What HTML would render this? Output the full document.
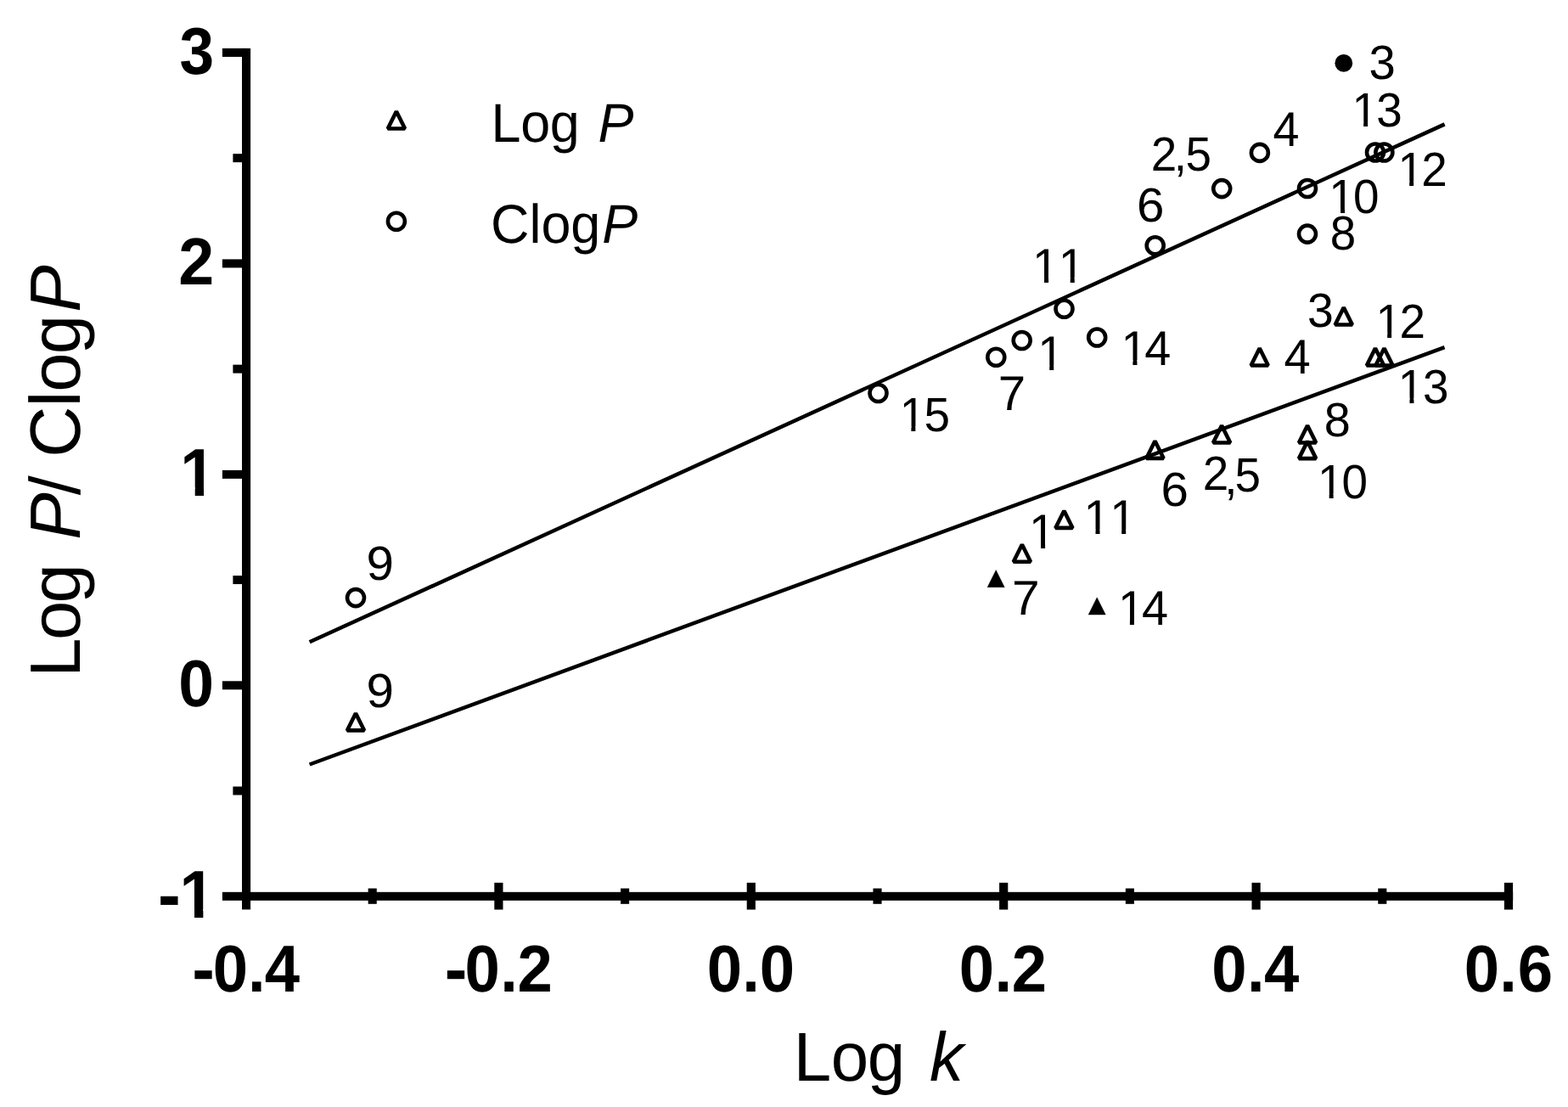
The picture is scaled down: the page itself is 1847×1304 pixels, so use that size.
<!DOCTYPE html>
<html lang="en"><head><meta charset="utf-8"><title>Log P / ClogP versus Log k</title>
<style>
html,body{margin:0;padding:0;background:#fff;}
body{width:1847px;height:1304px;overflow:hidden;}
svg{display:block;}
text{font-family:"Liberation Sans",Arial,Helvetica,sans-serif;fill:#000;font-kerning:none;text-rendering:geometricPrecision;white-space:pre;}
.b{font-weight:bold;}
.i{font-style:italic;}
</style></head><body>
<svg width="1847" height="1304" viewBox="0 0 1847 1304" role="img" aria-label="Scatter plot of Log P and ClogP versus Log k with regression lines">
<defs><clipPath id="c1"><rect x="-79.5" y="-95.4" width="159" height="85.89"/><rect x="18.51" y="-10.61" width="11.01" height="12.61"/></clipPath><clipPath id="c2"><rect x="-79.5" y="-95.4" width="186.36" height="85.89"/><rect x="2.51" y="-10.61" width="21.39" height="38.44"/><rect x="45.86" y="-10.61" width="11.01" height="12.61"/></clipPath><clipPath id="c3"><rect x="-57.6" y="-69.12" width="115.2" height="63.42"/><rect x="14.43" y="-6.8" width="5.19" height="8.8"/></clipPath><clipPath id="c4"><rect x="-57.6" y="-69.12" width="115.2" height="63.42"/><rect x="14.43" y="-6.8" width="5.19" height="8.8"/></clipPath><clipPath id="c5"><rect x="-56.6" y="-67.92" width="142.94" height="62.29"/><rect x="14.18" y="-6.73" width="5.1" height="8.73"/><rect x="31.3" y="-6.73" width="28.04" height="26.54"/></clipPath><clipPath id="c6"><rect x="-56.6" y="-67.92" width="142.01" height="62.29"/><rect x="14.18" y="-6.73" width="5.1" height="8.73"/><rect x="31.05" y="-6.73" width="26.99" height="26.54"/></clipPath><clipPath id="c7"><rect x="-56.6" y="-67.92" width="142.83" height="62.29"/><rect x="14.18" y="-6.73" width="5.1" height="8.73"/><rect x="31.24" y="-6.73" width="28.26" height="26.54"/></clipPath><clipPath id="c8"><rect x="-56.6" y="-67.92" width="142.26" height="62.29"/><rect x="14.18" y="-6.73" width="5.1" height="8.73"/><rect x="31.31" y="-6.73" width="26.99" height="26.54"/></clipPath><clipPath id="c9"><rect x="-56.6" y="-67.92" width="143.25" height="62.29"/><rect x="14.18" y="-6.73" width="5.1" height="8.73"/><rect x="31.61" y="-6.73" width="28.04" height="26.54"/></clipPath><clipPath id="c10"><rect x="-56.6" y="-67.92" width="142.73" height="62.29"/><rect x="14.18" y="-6.73" width="5.1" height="8.73"/><rect x="31.14" y="-6.73" width="28.26" height="26.54"/></clipPath><clipPath id="c11"><rect x="-56.6" y="-67.92" width="142.99" height="62.29"/><rect x="14.18" y="-6.73" width="5.1" height="8.73"/><rect x="31.45" y="-6.73" width="28.04" height="26.54"/></clipPath><clipPath id="c12"><rect x="-57.6" y="-69.12" width="143.99" height="63.42"/><rect x="14.43" y="-6.8" width="5.19" height="8.8"/><rect x="30.22" y="-6.8" width="29.52" height="26.96"/></clipPath><clipPath id="c13"><rect x="-57.6" y="-69.12" width="144.1" height="63.42"/><rect x="14.43" y="-6.8" width="5.19" height="8.8"/><rect x="30.22" y="-6.8" width="29.62" height="26.96"/></clipPath><clipPath id="c14"><rect x="-57.6" y="-69.12" width="146.8" height="63.42"/><rect x="14.43" y="-6.8" width="5.19" height="8.8"/><rect x="46.03" y="-6.8" width="5.19" height="8.8"/></clipPath><clipPath id="c15"><rect x="-57.6" y="-69.12" width="146.8" height="63.42"/><rect x="14.43" y="-6.8" width="5.19" height="8.8"/><rect x="46.03" y="-6.8" width="5.19" height="8.8"/></clipPath></defs>
<rect width="1847" height="1304" fill="#fff"/>
<g fill="#000">
<rect x="285" y="56.95" width="10.1" height="1014.45"/>
<rect x="261.9" y="1050.8" width="1520.2" height="10"/>
<rect x="261.9" y="56.95" width="28.15" height="10"/>
<rect x="261.9" y="305.4" width="28.15" height="10"/>
<rect x="261.9" y="553.85" width="28.15" height="10"/>
<rect x="261.9" y="802.3" width="28.15" height="10"/>
<rect x="274.4" y="181.17" width="15.65" height="10"/>
<rect x="274.4" y="429.62" width="15.65" height="10"/>
<rect x="274.4" y="678.07" width="15.65" height="10"/>
<rect x="274.4" y="926.52" width="15.65" height="10"/>
<rect x="582.3" y="1039.8" width="10.2" height="31.7"/>
<rect x="879.7" y="1039.8" width="10.2" height="31.7"/>
<rect x="1177.1" y="1039.8" width="10.2" height="31.7"/>
<rect x="1474.5" y="1039.8" width="10.2" height="31.7"/>
<rect x="1771.9" y="1039.8" width="10.2" height="31.7"/>
<rect x="433.65" y="1046.5" width="10.1" height="18.3"/>
<rect x="731.05" y="1046.5" width="10.1" height="18.3"/>
<rect x="1028.45" y="1046.5" width="10.1" height="18.3"/>
<rect x="1325.85" y="1046.5" width="10.1" height="18.3"/>
<rect x="1623.25" y="1046.5" width="10.1" height="18.3"/>
</g>
<text xml:space="preserve" font-size="78.2" transform="matrix(0.9339 0 0 1 211.62 86.75)" x="0"><tspan class="b">3</tspan></text>
<text xml:space="preserve" font-size="78.4" transform="matrix(0.9617 0 0 1 210.29 335.2)" x="0"><tspan class="b">2</tspan></text>
<text xml:space="preserve" font-size="79.5" transform="matrix(0.94 0 0 1 212.3 583.65)" x="0" clip-path="url(#c1)"><tspan class="b">1</tspan></text>
<text xml:space="preserve" font-size="78.2" transform="matrix(0.9599 0 0 1 210.33 832.1)" x="0"><tspan class="b">0</tspan></text>
<text xml:space="preserve" font-size="79.5" transform="matrix(0.94 0 0 1 185.89 1080.55)" x="0 27.36" y="2.2 0" clip-path="url(#c2)"><tspan class="b" font-size="85.46">-</tspan><tspan class="b">1</tspan></text>
<text xml:space="preserve" font-size="78.2" transform="matrix(0.95 0 0 1 226.14 1167.6)" x="0 25.95 69.29 89.99" y="2.2 0 0 0"><tspan class="b" font-size="84.06">-</tspan><tspan class="b">0.4</tspan></text>
<text xml:space="preserve" font-size="78.2" transform="matrix(0.95 0 0 1 523.79 1167.6)" x="0 24.85 68.92 90.26" y="2.2 0 0 0"><tspan class="b" font-size="84.06">-</tspan><tspan class="b">0.2</tspan></text>
<text xml:space="preserve" font-size="78.2" transform="matrix(0.95 0 0 1 832.65 1167.6)" x="0 43.92 65.26"><tspan class="b">0.0</tspan></text>
<text xml:space="preserve" font-size="78.2" transform="matrix(0.95 0 0 1 1129.8 1167.6)" x="0 44.02 65.21"><tspan class="b">0.2</tspan></text>
<text xml:space="preserve" font-size="78.2" transform="matrix(0.95 0 0 1 1427.3 1167.6)" x="0 43.86 65.09"><tspan class="b">0.4</tspan></text>
<text xml:space="preserve" font-size="78.2" transform="matrix(0.95 0 0 1 1724.8 1167.6)" x="0 43.76 66.24"><tspan class="b">0.6</tspan></text>
<text xml:space="preserve" font-size="81.5" transform="matrix(0.98 0 0 1 934.74 1272.7)" x="0 44.9 88.72 134.05 163.52">Log <tspan class="i">k</tspan></text>
<text xml:space="preserve" font-size="84" transform="matrix(0 -0.99 1 0 94 797.71)" x="0 44.07 88.04 134.76 163.54 216.62 239.96 261.51 321.76 339.32 384.41 434.35">Log <tspan class="i">P</tspan>/ Clog<tspan class="i">P</tspan></text>
<g stroke="#000" stroke-width="4.5" fill="none" stroke-linecap="butt">
<line x1="364.65" y1="756.3" x2="1701.65" y2="146.35"/>
<line x1="364.65" y1="900.5" x2="1701.55" y2="409.2"/>
</g>
<g stroke="#000" stroke-width="4.6" fill="none">
<circle cx="419" cy="704.1" r="10"/>
<circle cx="1034.5" cy="463" r="10"/>
<circle cx="1173.3" cy="420.8" r="10"/>
<circle cx="1203.7" cy="401" r="10"/>
<circle cx="1253.5" cy="363.7" r="10"/>
<circle cx="1292.2" cy="397.5" r="10"/>
<circle cx="1360.7" cy="289.3" r="10"/>
<circle cx="1439.2" cy="222.1" r="10"/>
<circle cx="1483.9" cy="179.9" r="10"/>
<circle cx="1540" cy="222" r="10"/>
<circle cx="1540" cy="275.6" r="10"/>
<circle cx="1620" cy="179.5" r="10"/>
<circle cx="1630.4" cy="179.5" r="10"/>
<circle cx="466.9" cy="260.7" r="10"/>
</g>
<circle cx="1582.8" cy="74.4" r="10.4" fill="#000"/>
<g stroke="#000" stroke-width="4.6" fill="none" stroke-linejoin="bevel">
<polygon points="419,840.17 429.1,860.42 408.9,860.42"/>
<polygon points="1203.9,641.48 1214,661.73 1193.8,661.73"/>
<polygon points="1253.4,601.67 1263.5,621.92 1243.3,621.92"/>
<polygon points="1360.5,519.58 1370.6,539.83 1350.4,539.83"/>
<polygon points="1439.1,501.27 1449.2,521.52 1429,521.52"/>
<polygon points="1483.7,410.18 1493.8,430.43 1473.6,430.43"/>
<polygon points="1540.1,501.27 1550.2,521.52 1530,521.52"/>
<polygon points="1540.1,519.88 1550.2,540.12 1530,540.12"/>
<polygon points="1582.8,362.18 1592.9,382.43 1572.7,382.43"/>
<polygon points="1620,410.27 1630.1,430.52 1609.9,430.52"/>
<polygon points="1630.5,410.27 1640.6,430.52 1620.4,430.52"/>
<polygon points="466.9,131.18 477,151.43 456.8,151.43"/>
</g>
<g fill="#000" stroke="#000" stroke-width="0.4">
<polygon points="1173.2,671.52 1183.3,691.77 1163.1,691.77"/>
<polygon points="1292.2,703.83 1302.3,724.08 1282.1,724.08"/>
</g>
<text xml:space="preserve" font-size="64.5" transform="matrix(0.975 0 0 1 578.53 166.8)" x="0 35.73 71.12 106.99 129.21">Log <tspan class="i">P</tspan></text>
<text xml:space="preserve" font-size="64.5" transform="matrix(0.975 0 0 1 577.89 285.7)" x="0 46.88 61.1 96.8 134.84">Clog<tspan class="i">P</tspan></text>
<text xml:space="preserve" font-size="56.6" transform="matrix(0.995 0 0 1 1612.56 93.2)" x="0">3</text>
<text xml:space="preserve" font-size="57.6" transform="matrix(0.9681 0 0 1 1499.52 172.1)" x="0">4</text>
<text xml:space="preserve" font-size="56.6" transform="matrix(1.03 0 0 1 1339.09 261.2)" x="0">6</text>
<text xml:space="preserve" font-size="56.6" transform="matrix(0.9677 0 0 1 1566.82 294.2)" x="0">8</text>
<text xml:space="preserve" font-size="56.6" transform="matrix(0.9801 0 0 1 1540.09 385.1)" x="0">3</text>
<text xml:space="preserve" font-size="57.6" transform="matrix(0.975 0 0 1 1512.61 439.5)" x="0">4</text>
<text xml:space="preserve" font-size="56.6" transform="matrix(0.9865 0 0 1 1559.77 514.4)" x="0">8</text>
<text xml:space="preserve" font-size="56.6" transform="matrix(1.03 0 0 1 1367.44 595.5)" x="0">6</text>
<text xml:space="preserve" font-size="57.6" transform="matrix(0.97 0 0 1 1212.06 646.1)" x="0" clip-path="url(#c3)">1</text>
<text xml:space="preserve" font-size="57.6" transform="matrix(1.0197 0 0 1 1192.09 724)" x="0">7</text>
<text xml:space="preserve" font-size="57.6" transform="matrix(0.97 0 0 1 1222.21 436)" x="0" clip-path="url(#c4)">1</text>
<text xml:space="preserve" font-size="57.6" transform="matrix(1.0121 0 0 1 1175.71 482.7)" x="0">7</text>
<text xml:space="preserve" font-size="56.6" transform="matrix(1.03 0 0 1 431.5 683)" x="0">9</text>
<text xml:space="preserve" font-size="56.6" transform="matrix(1.03 0 0 1 431.5 833.2)" x="0">9</text>
<text xml:space="preserve" font-size="56.6" transform="matrix(0.97 0 0 1 1592.44 149.1)" x="0 29.74" clip-path="url(#c5)">13</text>
<text xml:space="preserve" font-size="56.6" transform="matrix(0.97 0 0 1 1646.44 218.6)" x="0 28.81" clip-path="url(#c6)">12</text>
<text xml:space="preserve" font-size="56.6" transform="matrix(0.97 0 0 1 1565.34 250.5)" x="0 29.63" clip-path="url(#c7)">10</text>
<text xml:space="preserve" font-size="56.6" transform="matrix(0.97 0 0 1 1620.44 398.2)" x="0 29.06" clip-path="url(#c8)">12</text>
<text xml:space="preserve" font-size="56.6" transform="matrix(0.97 0 0 1 1646.74 474.5)" x="0 30.05" clip-path="url(#c9)">13</text>
<text xml:space="preserve" font-size="56.6" transform="matrix(0.97 0 0 1 1551.94 587.1)" x="0 29.53" clip-path="url(#c10)">10</text>
<text xml:space="preserve" font-size="56.6" transform="matrix(0.97 0 0 1 1059.64 508.1)" x="0 29.79" clip-path="url(#c11)">15</text>
<text xml:space="preserve" font-size="57.6" transform="matrix(0.97 0 0 1 1320.41 429.7)" x="0 28.79" clip-path="url(#c12)">14</text>
<text xml:space="preserve" font-size="57.6" transform="matrix(0.97 0 0 1 1316.91 736.1)" x="0 28.9" clip-path="url(#c13)">14</text>
<text xml:space="preserve" font-size="57.6" transform="matrix(0.97 0 0 1 1276.51 629.4)" x="0 31.6" clip-path="url(#c14)">11</text>
<text xml:space="preserve" font-size="57.6" transform="matrix(0.97 0 0 1 1216.06 332.5)" x="0 31.6" clip-path="url(#c15)">11</text>
<text xml:space="preserve" font-size="56.6" transform="matrix(0.97 0 0 1 1355.81 200.8)" x="0 27.74 41.93">2,5</text>
<text xml:space="preserve" font-size="56.6" transform="matrix(0.97 0 0 1 1416.86 576.7)" x="0 26.25 38.74" y="0 5.2 2.1">2,5</text>
</svg></body></html>
